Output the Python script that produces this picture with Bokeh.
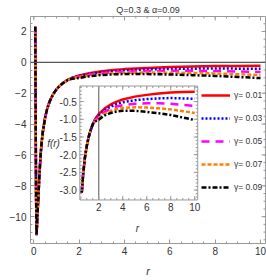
import numpy as np
from bokeh.plotting import figure
from bokeh.models import Range1d, Span, Legend, LegendItem, Label, FixedTicker
from bokeh.embed import file_html
from bokeh.resources import INLINE
from bokeh.core.properties import value

# ---------------- data ----------------
title_text = "Q=0.3 & α=0.09"
gamma_labels = ["γ= 0.01", "γ= 0.03", "γ= 0.05", "γ= 0.07", "γ= 0.09"]

# region where all curves coincide
r_near = [0.065, 0.08, 0.1, 0.12, 0.14, 0.17, 0.2, 0.25, 0.3, 0.35, 0.4, 0.5, 0.58,
          0.7, 0.85, 1.0, 1.15, 1.3, 1.5]
f_near = [2.3, -3.0, -8.6, -11.2, -10.6, -9.6, -8.8, -7.2, -6.0, -5.13, -4.48, -3.57, -3.07,
          -2.53, -2.07, -1.75, -1.51, -1.33, -1.14]

# region where the curves separate
r_far = [1.7, 2.0, 2.5, 3.0, 3.5, 4, 5, 6, 7, 8, 9, 10]
f_far_g001 = [-0.99, -0.85, -0.69, -0.58, -0.50, -0.44, -0.36, -0.31, -0.27, -0.24, -0.23, -0.22]
f_far_g003 = [-1.00, -0.89, -0.74, -0.64, -0.57, -0.52, -0.46, -0.43, -0.41, -0.40, -0.41, -0.42]
f_far_g005 = [-1.02, -0.93, -0.79, -0.70, -0.64, -0.60, -0.56, -0.55, -0.55, -0.56, -0.59, -0.62]
f_far_g007 = [-1.04, -0.97, -0.84, -0.76, -0.71, -0.68, -0.66, -0.67, -0.69, -0.72, -0.77, -0.82]
f_far_g009 = [-1.06, -1.01, -0.89, -0.82, -0.78, -0.76, -0.76, -0.79, -0.83, -0.88, -0.95, -1.02]

main_xticks = [0, 2, 4, 6, 8, 10]
main_yticks = [-10, -8, -6, -4, -2, 0, 2]
inset_xticks = [2, 4, 6, 8, 10]
inset_xtick_labels = ["2", "4", "6", "8", "10"]
inset_yticks = [-3.0, -2.5, -2.0, -1.5, -1.0, -0.5]
inset_ytick_labels = ["-3.0", "-2.5", "-2.0", "-1.5", "-1.0", "-0.5"]
inset_r_start = 0.58
inset_axis_x = 2

# ---------------- styles / layout ----------------
FONT = "'Liberation Sans Narrow', 'Liberation Sans', sans-serif"
FRAME = "#9a9a9a"
TXT = "#333333"
styles = [
    dict(line_color="#FF0000", line_dash="solid"),
    dict(line_color="#0000FF", line_dash="2 2"),
    dict(line_color="#FF00FF", line_dash="8 6"),
    dict(line_color="#FF8000", line_dash="4 2"),
    dict(line_color="#000000", line_dash="5 2 2 2"),
]
LW = 2.5

X0, X1 = -0.146, 10.22
Y0, Y1 = -11.74, 2.97
IX0, IX1 = 0.42, 10.25
IY0, IY1 = -3.28, -0.06
INSET_TX = (2.03, 7.23)
INSET_TY = (-8.92, -1.535)

p = figure(width=266, height=280, x_range=Range1d(X0, X1), y_range=Range1d(Y0, Y1),
           output_backend="svg", toolbar_location=None,
           min_border_left=30, min_border_right=1, min_border_top=15, min_border_bottom=37)
p.xgrid.visible = False
p.ygrid.visible = False
p.outline_line_color = FRAME
p.outline_line_width = 1

p.title.text = title_text
p.title.align = "center"
p.title.text_font = FONT
p.title.text_font_size = "9px"
p.title.text_font_style = "normal"
p.title.text_color = TXT
p.title.standoff = 4


def style_axis(ax, ticks, minor, standoff):
    ax.ticker = FixedTicker(ticks=ticks, minor_ticks=minor)
    ax.axis_line_color = None
    ax.major_tick_in = 4
    ax.major_tick_out = 0
    ax.minor_tick_in = 2
    ax.minor_tick_out = 0
    ax.major_tick_line_color = FRAME
    ax.minor_tick_line_color = FRAME
    ax.major_label_text_font = FONT
    ax.major_label_text_color = TXT
    ax.major_label_text_font_size = "10px"
    ax.major_label_standoff = standoff


xminor = list(np.arange(0, 10.01, 0.5))
yminor = list(np.arange(-11.5, 2.99, 0.5))
style_axis(p.xaxis[0], main_xticks, xminor, 3)
style_axis(p.yaxis[0], main_yticks, yminor, 4)
p.xaxis[0].axis_label = "r"
p.xaxis[0].axis_label_text_font_style = "italic"
p.xaxis[0].axis_label_text_font_size = "11px"
p.xaxis[0].axis_label_text_font = FONT
p.xaxis[0].axis_label_text_color = TXT
p.xaxis[0].axis_label_standoff = 7

# mirrored ticks on top and right edges of the frame
tk = dict(line_color=FRAME, line_width=1, length_units="screen")
p.ray(x=main_xticks, y=Y1, length=4, angle=-np.pi / 2, **tk)
p.ray(x=xminor, y=Y1, length=2, angle=-np.pi / 2, **tk)
p.ray(x=X1, y=main_yticks, length=4, angle=np.pi, **tk)
p.ray(x=X1, y=yminor, length=2, angle=np.pi, **tk)

p.add_layout(Span(location=0, dimension="width", line_color="#555555", line_width=1.3))

curves_far = [f_far_g001, f_far_g003, f_far_g005, f_far_g007, f_far_g009]
r_all = r_near + r_far
main_renderers = []
for f_far, st in zip(curves_far, styles):
    rr = p.line(r_all, f_near + f_far, line_width=LW, **st)
    main_renderers.append(rr)

# ---------------- inset ----------------
sub = p.subplot(x_source=Range1d(IX0, IX1), y_source=Range1d(IY0, IY1),
                x_target=Range1d(*INSET_TX), y_target=Range1d(INSET_TY[0], INSET_TY[1]))
sub.quad(left=[IX0], right=[IX1], bottom=[IY0], top=[IY1],
         fill_color="white", line_color=FRAME, line_width=1)
sub.segment(x0=[inset_axis_x], y0=[IY0], x1=[inset_axis_x], y1=[IY1],
            line_color="#555555", line_width=1)

for f_far, st in zip(curves_far, styles):
    rr = [r for r in r_all if r >= inset_r_start]
    ff = [f for r, f in zip(r_all, f_near + f_far) if r >= inset_r_start]
    sub.line(rr, ff, line_width=LW, **st)

ixminor = [v for v in np.arange(0.5, 10.01, 0.5)]
iyminor = [v for v in np.arange(-3.2, -0.09, 0.1)]
sub.ray(x=inset_xticks, y=IY0, length=4, angle=np.pi / 2, **tk)
sub.ray(x=inset_xticks, y=IY1, length=4, angle=-np.pi / 2, **tk)
sub.ray(x=ixminor, y=IY0, length=2, angle=np.pi / 2, **tk)
sub.ray(x=ixminor, y=IY1, length=2, angle=-np.pi / 2, **tk)
sub.ray(x=IX0, y=inset_yticks, length=4, angle=0, **tk)
sub.ray(x=IX1, y=inset_yticks, length=4, angle=np.pi, **tk)
sub.ray(x=IX0, y=iyminor, length=2, angle=0, **tk)
sub.ray(x=IX1, y=iyminor, length=2, angle=np.pi, **tk)

sub.text(x=inset_xticks, y=IY0, text=inset_xtick_labels, y_offset=3,
         text_align="center", text_baseline="top", text_font_size="10px",
         text_color=TXT, text_font=value(FONT))
sub.text(x=IX0, y=inset_yticks, text=inset_ytick_labels, x_offset=-3,
         text_align="right", text_baseline="middle", text_font_size="10px",
         text_color=TXT, text_font=value(FONT))

lab = dict(text_font=FONT, text_color=TXT, text_font_style="italic", text_font_size="10px",
           text_baseline="middle", text_align="center")
p.add_layout(Label(x=0.87, y=-5.29, text="f(r)", **lab))
p.add_layout(Label(x=4.57, y=-10.77, text="r", **lab))
p.add_layout(Label(x=-1.14, y=-4.32, text="f(r)", **lab))

legend = Legend(items=[LegendItem(label=l, renderers=[r]) for l, r in zip(gamma_labels, main_renderers)],
                location=(171, 46), orientation="vertical", glyph_width=29, glyph_height=20,
                label_height=20, spacing=3, padding=0, margin=0, border_line_color=None,
                background_fill_alpha=0, label_text_font_size="8.5px", label_standoff=4,
                label_text_font=FONT, label_text_color=TXT)
p.add_layout(legend)

open("out.html", "w").write(file_html(p, INLINE))
